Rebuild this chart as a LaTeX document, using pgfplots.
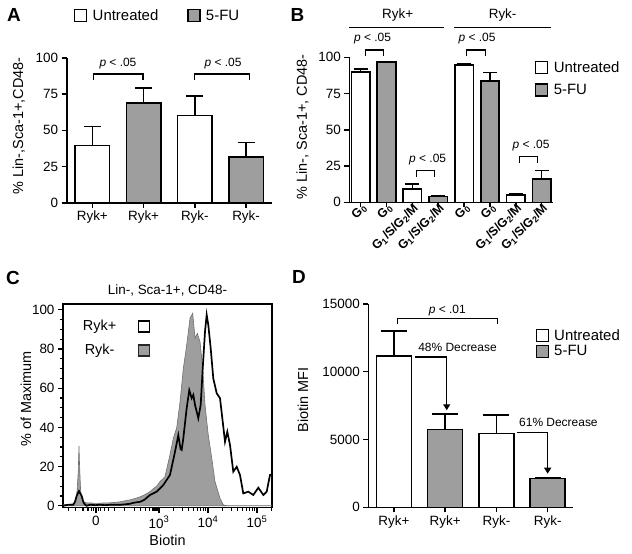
\documentclass[border=0pt]{standalone}
\usepackage{fontspec}
\setmainfont{Liberation Sans}
\usepackage{pgfplots}
\pgfplotsset{compat=1.18}
\usetikzlibrary{arrows.meta}
\definecolor{barg}{gray}{0.62}
\definecolor{histg}{gray}{0.62}
\newcommand\fs[1]{\fontsize{#1}{#1}\selectfont}
\pgfplotsset{
  sqlegend/.style={legend image code/.code={\path[draw=none,fill=none] (0bp,0bp) -- (16bp,0bp); \draw[##1, line width=1.3bp] (0bp,-6bp) rectangle (12bp,6bp);}},
  untr/.style={draw=black, fill=white, line width=1.6bp, bar shift=0pt, sqlegend,
     error bars/y dir=plus, error bars/y explicit,
     error bars/error bar style={line width=1.6bp, black},
     error bars/error mark options={rotate=90, mark size=#1, line width=1.6bp, black}},
  trt/.style={untr=#1, fill=barg},
  gp/.style={
    scale only axis, clip=false, anchor=south west,
    axis x line=bottom, axis y line=left,
    axis line style={-, line width=1.6bp},
    every tick/.style={black, line width=1.6bp},
    major tick length=5bp,
    tick align=outside,
    ybar, ymin=0,
    scaled y ticks=false,
    tick label style={font=\fs{13.5}},
    label style={font=\fs{14.5}},
    /pgf/number format/assume math mode=true,
    /pgf/number format/1000 sep={},
    legend cell align=left,
  },
}
\begin{document}
\begin{tikzpicture}
\useasboundingbox (0,0) rectangle (632bp,-554bp);
% ---------------- A ----------------
\begin{axis}[gp, at={(66.7bp,-202.7bp)}, width=205bp, height=144.7bp,
  xmin=-0.5, xmax=3.5, ymax=100, bar width=34.5bp,
  xtick={0,1,2,3}, xticklabels={Ryk+,Ryk+,Ryk-,Ryk-},
  ytick={0,25,50,75,100},
  ylabel={\% Lin-,Sca-1+,CD48-},
  ylabel style={at={(axis description cs:-0.233,0.53)}, anchor=center},
  legend columns=2,
  legend style={at={(rel axis cs:0.035,1.292)}, anchor=west, draw=none, fill=none, inner sep=0pt, font=\fs{15},
     /tikz/every even column/.append style={column sep=27bp}},
]
\addplot[untr=8.5bp] table[x=x, y=y, y error=e] {
x y e
0 39.6 13.2
2 60.4 13.4
};
\addlegendentry{Untreated}
\addplot[trt=8.5bp] table[x=x, y=y, y error=e] {
x y e
1 68.8 10.6
3 31.5 10.2
};
\addlegendentry{5-FU}
\draw[line width=1.3bp] (axis cs:0.02,84.8) |- (axis cs:0.99,89) -- (axis cs:0.99,84.8);
\node[font=\fs{12}] at (axis cs:0.5,96.3) {\textit{p} < .05};
\draw[line width=1.3bp] (axis cs:2,84.8) |- (axis cs:3.06,89) -- (axis cs:3.06,84.8);
\node[font=\fs{12}] at (axis cs:2.55,96.3) {\textit{p} < .05};
\end{axis}
% ---------------- B ----------------
\begin{axis}[gp, at={(349.3bp,-202.3bp)}, width=204bp, height=145bp,
  xmin=-0.44, xmax=7.45, ymax=100, bar width=18.5bp,
  xtick={0,...,7},
  xticklabels={G\textsubscript{0},G\textsubscript{0},G\textsubscript{1}/S/G\textsubscript{2}/M,G\textsubscript{1}/S/G\textsubscript{2}/M,G\textsubscript{0},G\textsubscript{0},G\textsubscript{1}/S/G\textsubscript{2}/M,G\textsubscript{1}/S/G\textsubscript{2}/M},
  xticklabel style={rotate=45, anchor=east, font=\bfseries\fs{12.5}, xshift=7bp, yshift=-2bp},
  ytick={0,25,50,75,100},
  ylabel={\% Lin-, Sca-1+, CD48-},
  ylabel style={at={(axis description cs:-0.229,0.52)}, anchor=center},
  legend style={at={(rel axis cs:0.91,0.985)}, anchor=north west, draw=none, fill=none, inner sep=0pt, font=\fs{15}, row sep=6bp},
]
\addplot[untr=7bp] table[x=x, y=y, y error=e] {
x y e
0 90.0 2.0
2 9.2 3.5
4 94.7 0.6
6 5.1 0.7
};
\addlegendentry{Untreated}
\addplot[trt=7bp] table[x=x, y=y, y error=e] {
x y e
1 96.8 0.4
3 3.9 0.7
5 83.6 6.0
7 16.2 5.8
};
\addlegendentry{5-FU}
\draw[line width=1.3bp] (axis cs:0.18,100.9) |- (axis cs:0.89,105) -- (axis cs:0.89,100.9);
\node[font=\fs{12}] at (axis cs:0.46,113) {\textit{p} < .05};
\draw[line width=1.3bp] (axis cs:2.15,17.7) |- (axis cs:2.86,21.8) -- (axis cs:2.86,17.7);
\node[font=\fs{12}] at (axis cs:2.59,29.6) {\textit{p} < .05};
\draw[line width=1.3bp] (axis cs:4.1,100.9) |- (axis cs:4.82,105) -- (axis cs:4.82,100.9);
\node[font=\fs{12}] at (axis cs:4.5,113) {\textit{p} < .05};
\draw[line width=1.3bp] (axis cs:6.14,27.3) |- (axis cs:6.85,31.4) -- (axis cs:6.85,27.3);
\node[font=\fs{12}] at (axis cs:6.59,39) {\textit{p} < .05};
\draw[line width=1.5bp] (axis cs:-0.44,120.7) -- (axis cs:3.23,120.7);
\node[font=\fs{13.5}] at (axis cs:1.43,129.5) {Ryk+};
\draw[line width=1.5bp] (axis cs:3.62,120.7) -- (axis cs:7.36,120.7);
\node[font=\fs{13.5}] at (axis cs:5.49,129.5) {Ryk-};
\end{axis}
% ---------------- C ----------------
\begin{axis}[scale only axis, anchor=south west, at={(63bp,-507.7bp)}, width=209bp, height=203.7bp,
  xmin=1.041, xmax=5.306, ymin=-1, ymax=103,
  axis line style={line width=1.3bp},
  every tick/.style={black, line width=1.2bp},
  major tick length=5bp, minor tick length=3bp,
  tick align=outside, xtick pos=left, ytick pos=left,
  xtick={1.714,3,4,5},
  xticklabels={0,10\textsuperscript{3},10\textsuperscript{4},10\textsuperscript{5}},
  minor xtick={1.15,1.3,1.45,1.55,1.62,1.67,1.76,1.81,1.88,1.97,2.1,2.3,2.5,2.62,2.72,2.8,2.86,2.9,2.94,2.97,3.301,3.477,3.602,3.699,3.778,3.845,3.903,3.954,4.301,4.477,4.602,4.699,4.778,4.845,4.903,4.954,5.301},
  ytick={0,20,...,100}, minor y tick num=3,
  tick label style={font=\fs{13.5}},
  label style={font=\fs{14.5}},
  /pgf/number format/assume math mode=true,
  xlabel={Biotin},
  ylabel={\% of Maximum},
  ylabel style={at={(axis description cs:-0.177,0.535)}, anchor=center},
  title={Lin-, Sca-1+, CD48-},
  title style={at={(axis description cs:0.5,1)}, anchor=south, font=\fs{13.5}, yshift=-2bp},
  legend plot pos=right, reverse legend,
  legend style={at={(rel axis cs:0.085,0.93)}, anchor=north west, draw=none, fill=none, inner sep=0pt, font=\fs{14.5}, row sep=8bp},
]
\addplot[fill=histg, draw=histg!70!black, line width=0.6bp,
  legend image code/.code={\path[draw=none,fill=none] (-20bp,0bp) -- (0bp,0bp); \draw[fill=histg, draw=black!85, line width=1.3bp] (0bp,-5.5bp) rectangle (11bp,5.5bp);}]
table {
1.041 0.5
1.15 0.6
1.25 1.0
1.30 3
1.33 8
1.353 18
1.367 30.5
1.38 20
1.40 8
1.422 4
1.455 2
1.52 1.5
1.60 1.5
1.70 1.2
1.80 1.3
1.90 1.5
2.00 1.5
2.10 1.7
2.20 2.0
2.30 2.5
2.41 3.0
2.48 3.5
2.55 4
2.61 4.5
2.70 5.5
2.816 7.2
2.90 9
2.953 10
3.02 12.3
3.122 14.8
3.224 26
3.292 34.4
3.361 39.7
3.429 53
3.496 70
3.565 82
3.633 95.8
3.688 98.3
3.735 85.5
3.782 88
3.837 83.8
3.892 70
3.939 51.5
4.006 36
4.076 24.4
4.143 12.3
4.245 3.8
4.312 0.4
4.40 0
5.306 0
} \closedcycle;
\addlegendentry{Ryk-}
\addplot[black, line width=1.7bp,
  legend image code/.code={\path[draw=none,fill=none] (-20bp,0bp) -- (0bp,0bp); \draw[fill=white, draw=black, line width=1.3bp] (0bp,-5.5bp) rectangle (11bp,5.5bp);}]
table {
1.041 0
1.15 0.5
1.25 0.5
1.286 2
1.32 5
1.367 7.5
1.40 6
1.422 5
1.455 2
1.476 1
1.52 0
1.60 0.5
1.70 0.3
1.80 0.5
1.90 0.3
2.00 0.5
2.10 0.5
2.20 0.5
2.30 0.7
2.41 1
2.476 1.5
2.55 1.8
2.612 2
2.70 3
2.816 5.5
2.953 7.2
3.088 10.6
3.224 15.7
3.327 27.6
3.394 36
3.44 29
3.463 28.5
3.496 34.4
3.565 49.8
3.618 59
3.667 54.9
3.700 56.6
3.735 51.5
3.802 44.7
3.851 51.5
3.892 70
3.939 89
3.973 97.5
4.006 92.3
4.055 80.4
4.108 65
4.178 57.4
4.245 54.9
4.300 43
4.347 32.7
4.394 37.8
4.449 31
4.516 17.4
4.586 19.9
4.653 15.7
4.720 6.3
4.822 7.2
4.924 5.5
5.027 9.2
5.129 5.5
5.198 7.2
5.265 15.7
5.306 16
};
\addlegendentry{Ryk+}
\end{axis}
% ---------------- D ----------------
\begin{axis}[gp, at={(368.3bp,-507.3bp)}, width=205bp, height=203.6bp,
  xmin=-0.5, xmax=3.5, ymax=15000, bar width=35bp,
  xtick={0,1,2,3}, xticklabels={Ryk+,Ryk+,Ryk-,Ryk-},
  ytick={0,5000,10000,15000},
  ylabel={Biotin MFI},
  ylabel style={at={(axis description cs:-0.319,0.527)}, anchor=center},
  legend style={at={(rel axis cs:0.815,0.885)}, anchor=north west, draw=none, fill=none, inner sep=0pt, font=\fs{15}, row sep=0bp},
]
\addplot[untr=13bp] table[x=x, y=y, y error=e] {
x y e
0 11127 1863
2 5424 1356
};
\addlegendentry{Untreated}
\addplot[trt=13bp] table[x=x, y=y, y error=e] {
x y e
1 5720 1133
3 2108 52
};
\addlegendentry{5-FU}
\draw[line width=1.3bp] (axis cs:0.07,13530) |- (axis cs:2.02,13900) -- (axis cs:2.02,13530);
\node[font=\fs{12}] at (axis cs:1.04,14520) {\textit{p} < .01};
\node[font=\fs{12}] at (axis cs:1.24,11760) {48\% Decrease};
\draw[line width=1.3bp, -{Triangle[length=6bp,width=7bp]}] (axis cs:0.42,11075) -| (axis cs:1.03,7150);
\node[font=\fs{12}] at (axis cs:3.21,6235) {61\% Decrease};
\draw[line width=1.3bp, -{Triangle[length=6bp,width=7bp]}] (axis cs:2.41,5500) -| (axis cs:3.0,2475);
\end{axis}
% panel letters
\node[font=\bfseries\fs{19}] at (14bp,-14.5bp) {A};
\node[font=\bfseries\fs{19}] at (297.5bp,-14.5bp) {B};
\node[font=\bfseries\fs{19}] at (13bp,-277.5bp) {C};
\node[font=\bfseries\fs{19}] at (299bp,-277bp) {D};
\end{tikzpicture}
\end{document}
